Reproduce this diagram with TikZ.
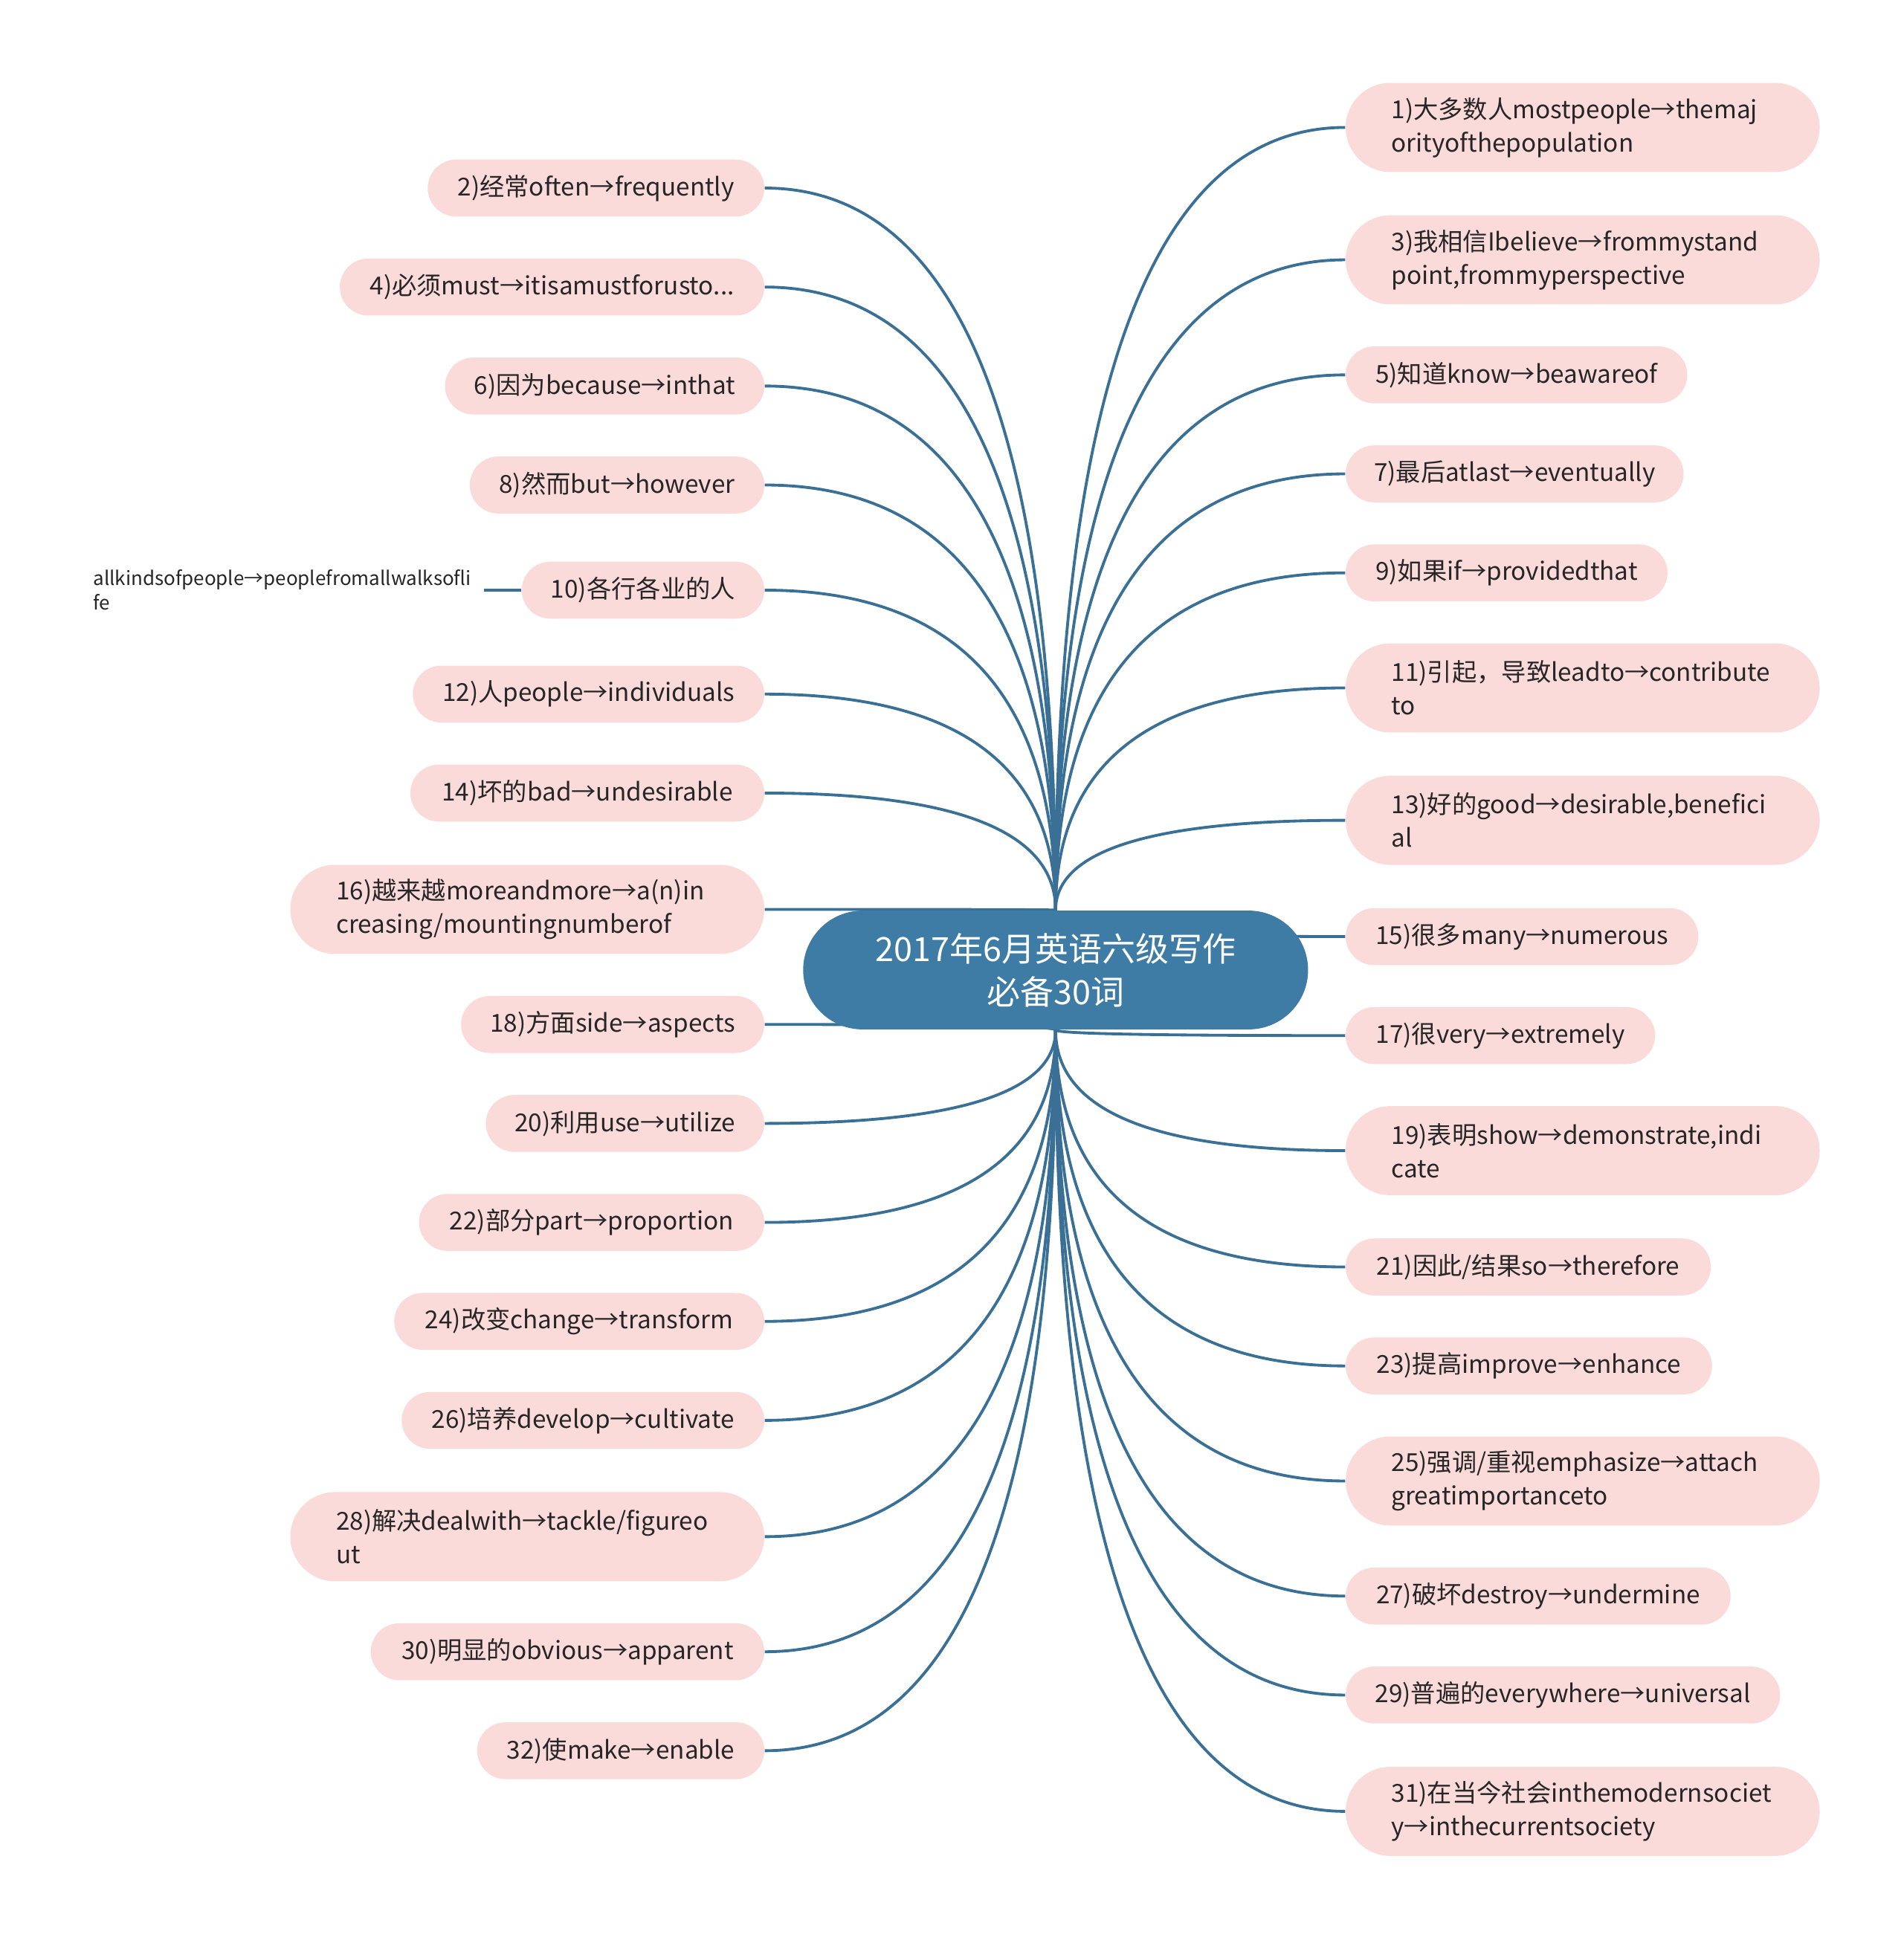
\documentclass[tikz,border=0pt]{standalone}
\usepackage{fontspec}
\setmainfont{Noto Sans CJK SC}
\usetikzlibrary{calc,backgrounds}
\definecolor{leafpink}{RGB}{251,218,218}
\definecolor{centerblue}{RGB}{62,124,165}
\definecolor{linkblue}{RGB}{58,112,150}
\definecolor{leaftext}{RGB}{38,38,38}
\hyphenpenalty=10000
\exhyphenpenalty=10000
\tikzset{
  leaf/.style={fill=leafpink, rounded corners=11.5pt, minimum height=23pt, inner sep=0pt,
    font=\fontsize{10}{13.5}\selectfont, text=leaftext},
  leaftwo/.style={leaf, minimum height=36pt, rounded corners=18pt, align=left, text width=154.5pt},
  W/.style={minimum width=#1*0.5pt},
  conn/.style={draw=linkblue, line width=1.15pt},
  hub/.style={fill=centerblue, text=white, rounded corners=24pt, minimum width=204pt,
    minimum height=48pt, inner sep=0pt, align=center, font=\fontsize{13.5}{17.5}\selectfont},
  sub/.style={text=leaftext, align=left, inner xsep=5pt, inner ysep=0pt, font=\fontsize{7.8}{10}\selectfont}
}
\begin{document}
\begin{tikzpicture}[x=0.5pt,y=-0.5pt]
\useasboundingbox (0,0) rectangle (1538,1568);

\node[hub] (c) at (853,784) {2017年6月英语六级写作\\必备30词};

% left side
\node[leaf,W=272,anchor=east] (l2) at (618,152) {2)经常often→frequently};
\node[leaf,W=343,anchor=east] (l4) at (618,232) {4)必须must→itisamustforusto...};
\node[leaf,W=258,anchor=east] (l6) at (618,312) {6)因为because→inthat};
\node[leaf,W=238,anchor=east] (l8) at (618,392) {8)然而but→however};
\node[leaf,W=196,anchor=east] (l10) at (618,477) {10)各行各业的人};
\node[sub,anchor=west] (l10a) at (65,477) {allkindsofpeople→peoplefromallwalksofli\\fe};
\node[leaf,W=284,anchor=east] (l12) at (618,561) {12)人people→individuals};
\node[leaf,W=286,anchor=east] (l14) at (618,641) {14)坏的bad→undesirable};
\node[leaftwo,W=383,anchor=east] (l16) at (618,735) {16)越来越moreandmore→a(n)in\\creasing/mountingnumberof};
\node[leaf,W=245,anchor=east] (l18) at (618,828) {18)方面side→aspects};
\node[leaf,W=225,anchor=east] (l20) at (618,908) {20)利用use→utilize};
\node[leaf,W=279,anchor=east] (l22) at (618,988) {22)部分part→proportion};
\node[leaf,W=299,anchor=east] (l24) at (618,1068) {24)改变change→transform};
\node[leaf,W=293,anchor=east] (l26) at (618,1148) {26)培养develop→cultivate};
\node[leaftwo,W=383,anchor=east] (l28) at (618,1242) {28)解决dealwith→tackle/figureo\\ut};
\node[leaf,W=318,anchor=east] (l30) at (618,1335) {30)明显的obvious→apparent};
\node[leaf,W=232,anchor=east] (l32) at (618,1415) {32)使make→enable};

% right side
\node[leaftwo,W=383,anchor=west] (r1) at (1087,103) {1)大多数人mostpeople→themaj\\orityofthepopulation};
\node[leaftwo,W=383,anchor=west] (r3) at (1087,210) {3)我相信Ibelieve→frommystand\\point,frommyperspective};
\node[leaf,W=276,anchor=west] (r5) at (1087,303) {5)知道know→beawareof};
\node[leaf,W=273,anchor=west] (r7) at (1087,383) {7)最后atlast→eventually};
\node[leaf,W=260,anchor=west] (r9) at (1087,463) {9)如果if→providedthat};
\node[leaftwo,W=383,anchor=west] (r11) at (1087,556) {11)引起，导致leadto→contribute\\to};
\node[leaftwo,W=383,anchor=west] (r13) at (1087,663) {13)好的good→desirable,benefici\\al};
\node[leaf,W=285,anchor=west] (r15) at (1087,757) {15)很多many→numerous};
\node[leaf,W=250,anchor=west] (r17) at (1087,837) {17)很very→extremely};
\node[leaftwo,W=383,anchor=west] (r19) at (1087,930) {19)表明show→demonstrate,indi\\cate};
\node[leaf,W=295,anchor=west] (r21) at (1087,1024) {21)因此/结果so→therefore};
\node[leaf,W=296,anchor=west] (r23) at (1087,1104) {23)提高improve→enhance};
\node[leaftwo,W=383,anchor=west] (r25) at (1087,1197) {25)强调/重视emphasize→attach\\greatimportanceto};
\node[leaf,W=311,anchor=west] (r27) at (1087,1290) {27)破坏destroy→undermine};
\node[leaf,W=351,anchor=west] (r29) at (1087,1370) {29)普遍的everywhere→universal};
\node[leaftwo,W=383,anchor=west] (r31) at (1087,1464) {31)在当今社会inthemodernsociet\\y→inthecurrentsociety};

\begin{scope}[on background layer]
\fill[white] (0,0) rectangle (1538,1568);
\foreach \n in {l2,l4,l6,l8,l10,l12,l14,l16} {
  \coordinate (k) at (c.north |- \n.east);
  \draw[conn] (c.north) .. controls ($(c.north)!0.6667!(k)$) and ($(\n.east)!0.6667!(k)$) .. (\n.east);
}
\foreach \n in {l18,l20,l22,l24,l26,l28,l30,l32} {
  \coordinate (k) at (c.south |- \n.east);
  \draw[conn] (c.south) .. controls ($(c.south)!0.6667!(k)$) and ($(\n.east)!0.6667!(k)$) .. (\n.east);
}
\foreach \n in {r1,r3,r5,r7,r9,r11,r13,r15} {
  \coordinate (k) at (c.north |- \n.west);
  \draw[conn] (c.north) .. controls ($(c.north)!0.6667!(k)$) and ($(\n.west)!0.6667!(k)$) .. (\n.west);
}
\foreach \n in {r17,r19,r21,r23,r25,r27,r29,r31} {
  \coordinate (k) at (c.south |- \n.west);
  \draw[conn] (c.south) .. controls ($(c.south)!0.6667!(k)$) and ($(\n.west)!0.6667!(k)$) .. (\n.west);
}
\draw[conn] (l10.west) -- (l10a.east);
\end{scope}
\end{tikzpicture}
\end{document}
